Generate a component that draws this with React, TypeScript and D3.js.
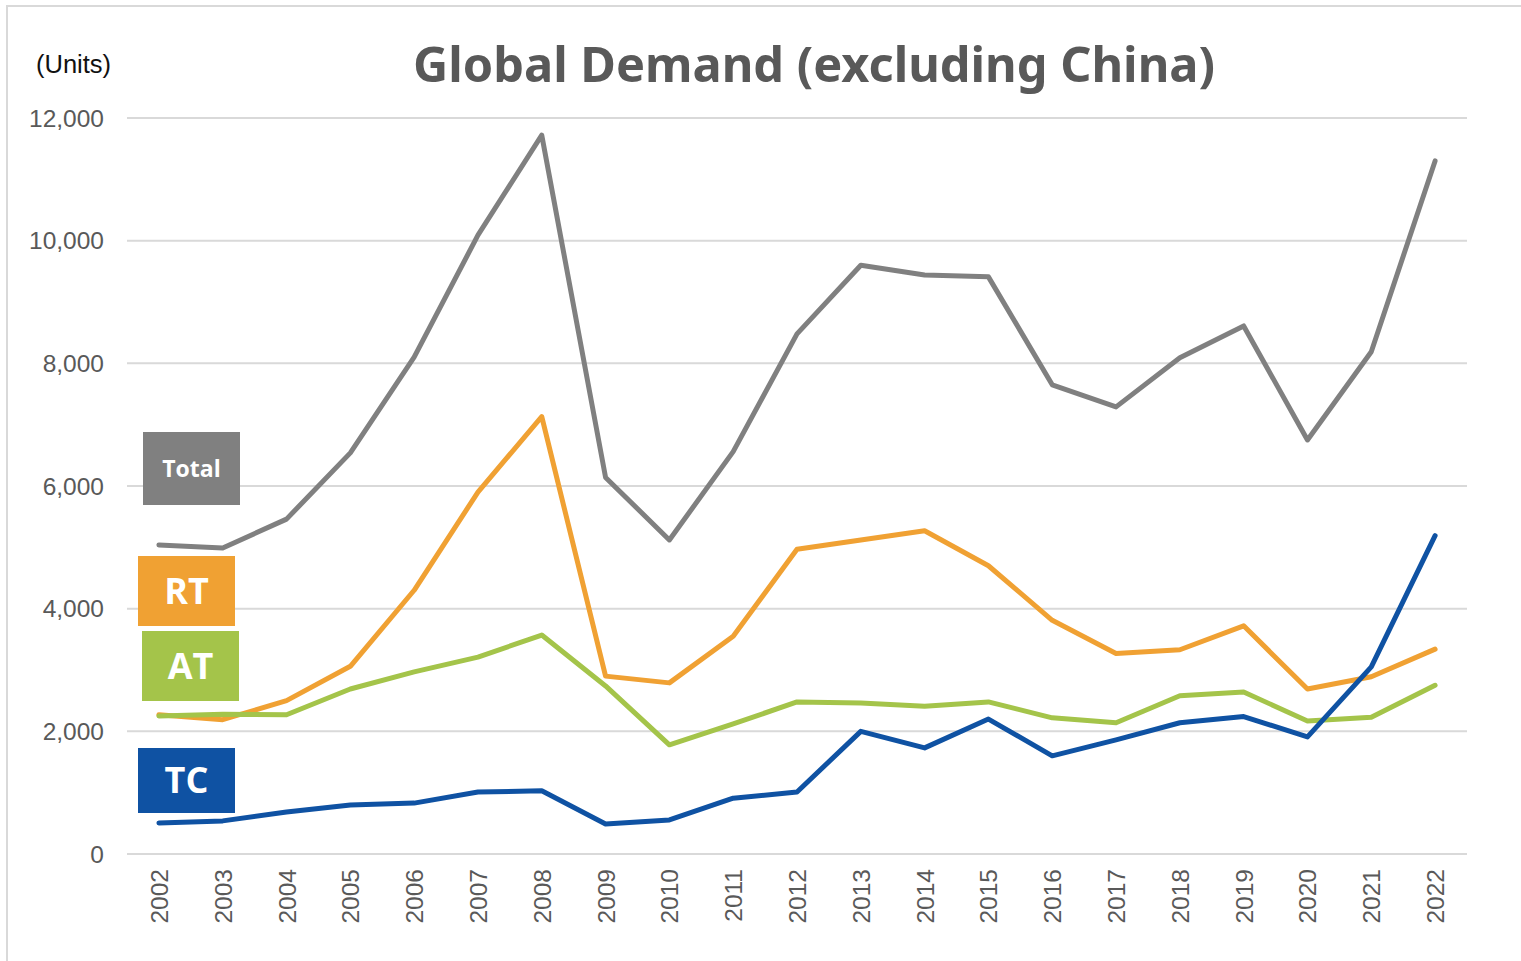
import { useEffect, useRef } from "react";
import * as d3 from "d3";

const years = [
  "2002", "2003", "2004", "2005", "2006", "2007", "2008", "2009", "2010", "2011", "2012",
  "2013", "2014", "2015", "2016", "2017", "2018", "2019", "2020", "2021", "2022",
];

const totalValues = [5040, 4990, 5460, 6540, 8100, 10090, 11720, 6140, 5120, 6560, 8480, 9600, 9440, 9410, 7650, 7290, 8090, 8610, 6750, 8190, 11300];
const rtValues = [2270, 2190, 2500, 3060, 4300, 5900, 7130, 2900, 2790, 3550, 4970, 5120, 5270, 4700, 3810, 3270, 3330, 3720, 2690, 2890, 3340];
const atValues = [2250, 2280, 2270, 2690, 2970, 3210, 3570, 2740, 1780, 2120, 2480, 2460, 2410, 2480, 2220, 2140, 2580, 2640, 2170, 2230, 2750];
const tcValues = [505, 540, 685, 800, 830, 1010, 1030, 490, 555, 910, 1010, 2000, 1730, 2200, 1600, 1860, 2140, 2240, 1910, 3050, 5190];

const yTicks = [0, 2000, 4000, 6000, 8000, 10000, 12000];

const seriesNames = ["Total", "RT", "AT", "TC"];
const seriesColors = ["#808080", "#f0a133", "#a4c44a", "#0f52a3"];

export default function App() {
  const svgRef = useRef<SVGSVGElement>(null);

  useEffect(() => {
    if (!svgRef.current) return;
    const svg = d3.select(svgRef.current);
    svg.selectAll("*").remove();

    const width = 1521;
    const height = 961;
    const left = 127, right = 1467, top = 118, bottom = 854;

    // chart border
    svg.append("rect")
      .attr("x", 7).attr("y", 6)
      .attr("width", width + 10).attr("height", height + 10)
      .attr("fill", "#fff")
      .attr("stroke", "#d9d9d9")
      .attr("stroke-width", 2);

    const x = d3.scalePoint<string>()
      .domain(years)
      .range([left, right])
      .padding(0.5);

    const y = d3.scaleLinear()
      .domain([0, 12000])
      .range([bottom, top]);

    // gridlines
    svg.append("g")
      .selectAll("line")
      .data(yTicks)
      .join("line")
      .attr("x1", left).attr("x2", right)
      .attr("y1", d => y(d)).attr("y2", d => y(d))
      .attr("stroke", "#d9d9d9")
      .attr("stroke-width", 2);

    // y labels
    svg.append("g")
      .selectAll("text")
      .data(yTicks)
      .join("text")
      .attr("x", 104)
      .attr("y", d => y(d))
      .attr("dy", "0.35em")
      .attr("text-anchor", "end")
      .attr("font-family", "Liberation Sans, Arial, sans-serif")
      .attr("font-size", 24.5)
      .attr("fill", "#595959")
      .text(d => d3.format(",")(d));

    // x labels (rotated)
    svg.append("g")
      .selectAll("text")
      .data(years)
      .join("text")
      .attr("transform", d => `translate(${x(d)! + 9},869) rotate(-90)`)
      .attr("text-anchor", "end")
      .attr("font-family", "Liberation Sans, Arial, sans-serif")
      .attr("font-size", 24.5)
      .attr("fill", "#595959")
      .text(d => d);

    // lines
    const allSeries = [totalValues, rtValues, atValues, tcValues];
    const line = d3.line<number>()
      .x((_, i) => x(years[i])!)
      .y(d => y(d));

    allSeries.forEach((vals, i) => {
      svg.append("path")
        .datum(vals)
        .attr("d", line)
        .attr("fill", "none")
        .attr("stroke", seriesColors[i])
        .attr("stroke-width", 5)
        .attr("stroke-linejoin", "round")
        .attr("stroke-linecap", "round");
    });

    // label boxes on the left
    const boxes = [
      { x: 143, y: 432, w: 97, h: 73, size: 23 },
      { x: 138, y: 556, w: 97, h: 70, size: 36 },
      { x: 142, y: 631, w: 97, h: 70, size: 36 },
      { x: 138, y: 748, w: 97, h: 65, size: 36 },
    ];
    boxes.forEach((b, i) => {
      svg.append("rect")
        .attr("x", b.x).attr("y", b.y)
        .attr("width", b.w).attr("height", b.h)
        .attr("fill", seriesColors[i]);
      svg.append("text")
        .attr("x", b.x + b.w / 2)
        .attr("y", b.y + b.h / 2)
        .attr("dy", "0.36em")
        .attr("text-anchor", "middle")
        .attr("font-family", "Open Sans, Noto Sans, sans-serif")
        .attr("font-weight", "bold")
        .attr("font-size", b.size)
        .attr("fill", "#fff")
        .text(seriesNames[i]);
    });

    // title + unit
    svg.append("text")
      .attr("x", 814).attr("y", 82)
      .attr("text-anchor", "middle")
      .attr("font-family", "Noto Sans, Open Sans, sans-serif")
      .attr("font-weight", "bold")
      .attr("font-size", 48)
      .attr("fill", "#595959")
      .attr("textLength", 802)
      .attr("lengthAdjust", "spacingAndGlyphs")
      .text("Global Demand (excluding China)");

    svg.append("text")
      .attr("x", 36).attr("y", 73)
      .attr("font-family", "Liberation Sans, Arial, sans-serif")
      .attr("font-size", 25.5)
      .attr("fill", "#111")
      .text("(Units)");
  }, []);

  return (
    <svg
      ref={svgRef}
      width={1521}
      height={961}
      style={{ position: "absolute", left: 0, top: 0, background: "#fff" }}
    />
  );
}
